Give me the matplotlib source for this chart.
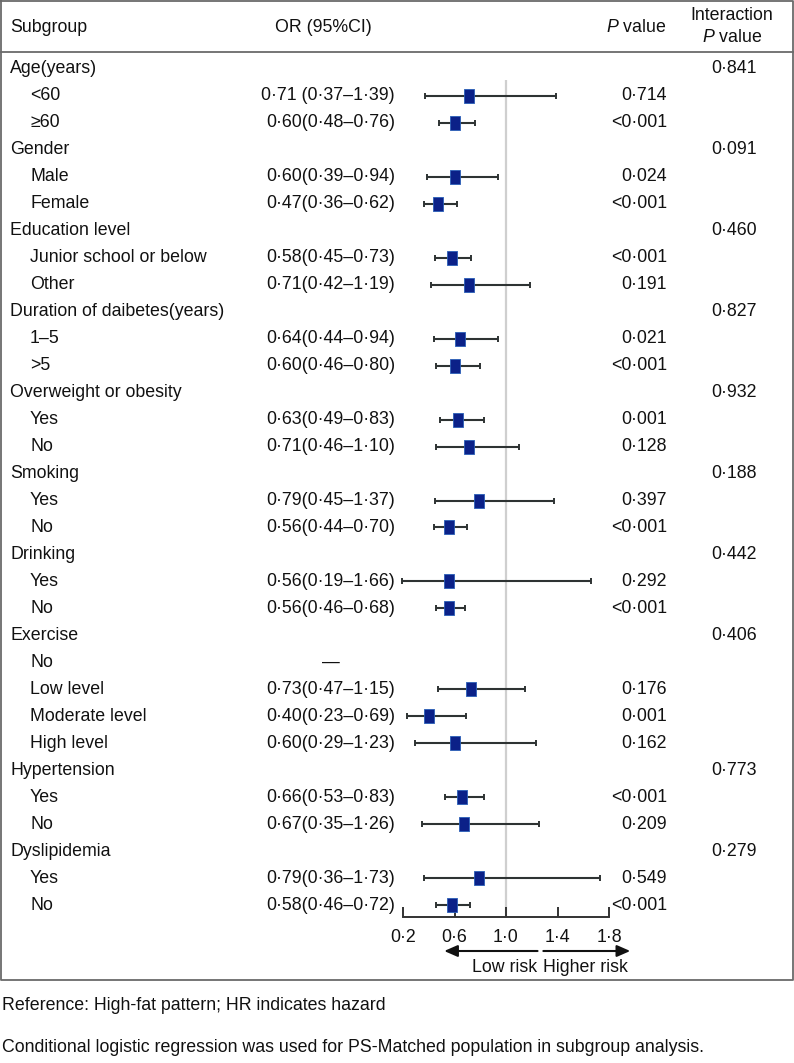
import numpy as np
import matplotlib
matplotlib.use("Agg")
import matplotlib.pyplot as plt
from matplotlib import transforms
from matplotlib.path import Path
from matplotlib.lines import Line2D

plt.rcParams['font.family'] = ['Liberation Sans', 'DejaVu Sans']
plt.rcParams['mathtext.fontset'] = 'custom'
plt.rcParams['mathtext.it'] = 'Liberation Sans:italic'
plt.rcParams['mathtext.rm'] = 'Liberation Sans'

# ---------------- data ----------------
subgroups = ["Age(years)", "<60", "≥60",
             "Gender", "Male", "Female",
             "Education level", "Junior school or below", "Other",
             "Duration of daibetes(years)", "1–5", ">5",
             "Overweight or obesity", "Yes", "No",
             "Smoking", "Yes", "No",
             "Drinking", "Yes", "No",
             "Exercise", "No", "Low level", "Moderate level", "High level",
             "Hypertension", "Yes", "No",
             "Dyslipidemia", "Yes", "No"]
is_group = [1, 0, 0, 1, 0, 0, 1, 0, 0, 1, 0, 0, 1, 0, 0, 1, 0, 0,
            1, 0, 0, 1, 0, 0, 0, 0, 1, 0, 0, 1, 0, 0]
nan = np.nan
or_est = [nan, 0.71, 0.60, nan, 0.60, 0.47, nan, 0.58, 0.71, nan, 0.64, 0.60,
          nan, 0.63, 0.71, nan, 0.79, 0.56, nan, 0.56, 0.56, nan, nan, 0.73, 0.40, 0.60,
          nan, 0.66, 0.67, nan, 0.79, 0.58]
ci_low = [nan, 0.37, 0.48, nan, 0.39, 0.36, nan, 0.45, 0.42, nan, 0.44, 0.46,
          nan, 0.49, 0.46, nan, 0.45, 0.44, nan, 0.19, 0.46, nan, nan, 0.47, 0.23, 0.29,
          nan, 0.53, 0.35, nan, 0.36, 0.46]
ci_high = [nan, 1.39, 0.76, nan, 0.94, 0.62, nan, 0.73, 1.19, nan, 0.94, 0.80,
           nan, 0.83, 1.10, nan, 1.37, 0.70, nan, 1.66, 0.68, nan, nan, 1.15, 0.69, 1.23,
           nan, 0.83, 1.26, nan, 1.73, 0.72]
or_text = ["", "0·71 (0·37–1·39)", "0·60(0·48–0·76)", "", "0·60(0·39–0·94)", "0·47(0·36–0·62)",
           "", "0·58(0·45–0·73)", "0·71(0·42–1·19)", "", "0·64(0·44–0·94)", "0·60(0·46–0·80)",
           "", "0·63(0·49–0·83)", "0·71(0·46–1·10)", "", "0·79(0·45–1·37)", "0·56(0·44–0·70)",
           "", "0·56(0·19–1·66)", "0·56(0·46–0·68)", "", "—", "0·73(0·47–1·15)",
           "0·40(0·23–0·69)", "0·60(0·29–1·23)", "", "0·66(0·53–0·83)", "0·67(0·35–1·26)",
           "", "0·79(0·36–1·73)", "0·58(0·46–0·72)"]
p_text = ["", "0·714", "<0·001", "", "0·024", "<0·001", "", "<0·001", "0·191", "",
          "0·021", "<0·001", "", "0·001", "0·128", "", "0·397", "<0·001", "", "0·292",
          "<0·001", "", "", "0·176", "0·001", "0·162", "", "<0·001", "0·209", "",
          "0·549", "<0·001"]
p_inter = ["0·841", "", "", "0·091", "", "", "0·460", "", "", "0·827", "", "",
           "0·932", "", "", "0·188", "", "", "0·442", "", "", "0·406", "", "", "", "",
           "0·773", "", "", "0·279", "", ""]
xticks = [0.2, 0.6, 1.0, 1.4, 1.8]
xtick_labels = ["0·2", "0·6", "1·0", "1·4", "1·8"]
ref_value = 1.0

# ---------------- layout ----------------
W, H = 794, 1063
fig = plt.figure(figsize=(W / 100, H / 100), dpi=100)
fx = lambda px: px / W
fy = lambda py: 1 - py / H

row0_px, row_step = 69.0, 26.97
ax_top_px, ax_bot_px = 55.0, 917.0
y_top = (ax_top_px - row0_px) / row_step
y_bot = (ax_bot_px - row0_px) / row_step

ax = fig.add_axes([fx(403), fy(ax_bot_px), fx(609) - fx(403), (ax_bot_px - ax_top_px) / H])
ax.set_xlim(0.2, 1.8)
ax.set_ylim(y_bot, y_top)
ax.patch.set_visible(False)
for s in ['left', 'right', 'top']:
    ax.spines[s].set_visible(False)
ax.spines['bottom'].set_color('#333333')
ax.spines['bottom'].set_linewidth(1.4)
ax.set_yticks([])
ax.set_xticks(xticks)
ax.set_xticklabels(xtick_labels)
ax.tick_params(axis='x', direction='in', length=7.5, width=1.4, color='#333333',
               labelsize=12.8, pad=9, labelcolor='#111111')

n = len(subgroups)
rows = np.arange(n)
est = np.array(or_est)
lo = np.array(ci_low)
hi = np.array(ci_high)

# reference line
ax.vlines(ref_value, 0.4, y_bot, color='#cfcfcf', lw=1.6, zorder=1)

# CI whiskers
ax.errorbar(est, rows, xerr=[est - lo, hi - est], fmt='none', ecolor='#2e3333',
            elinewidth=1.5, capsize=2.4, capthick=1.4, zorder=2, clip_on=False)
# boxes (slightly tall rectangles)
rect = Path([(-0.35, -0.5), (0.35, -0.5), (0.35, 0.5), (-0.35, 0.5), (-0.35, -0.5)],
            [Path.MOVETO, Path.LINETO, Path.LINETO, Path.LINETO, Path.CLOSEPOLY])
ax.plot(est, rows, linestyle='none', marker=rect, markersize=9.6,
        markerfacecolor='#0b2188', markeredgecolor='#2a5fb8', markeredgewidth=0.6,
        zorder=3, clip_on=False)

# ---------------- texts ----------------
trans = transforms.blended_transform_factory(fig.transFigure, ax.transData)
fs = 12.8
tc = '#111111'
for i in range(n):
    x = fx(10) if is_group[i] else fx(30)
    fig.text(x, i, subgroups[i], transform=trans, ha='left', va='center', fontsize=fs, color=tc)
    if or_text[i] == "—":
        fig.text(fx(331), i, or_text[i], transform=trans, ha='center', va='center',
                 fontsize=fs, color=tc)
    elif or_text[i]:
        fig.text(fx(395), i, or_text[i], transform=trans, ha='right', va='center',
                 fontsize=fs, color=tc)
    if p_text[i]:
        fig.text(fx(667), i, p_text[i], transform=trans, ha='right', va='center',
                 fontsize=fs, color=tc)
    if p_inter[i]:
        fig.text(fx(757), i, p_inter[i], transform=trans, ha='right', va='center',
                 fontsize=fs, color=tc)

# header
fig.text(fx(10), fy(28), "Subgroup", ha='left', va='center', fontsize=fs, color=tc)
fig.text(fx(323), fy(28), "OR (95%CI)", ha='center', va='center', fontsize=fs, color=tc)
fig.text(fx(666), fy(28), r"$P$ value", ha='right', va='center', fontsize=fs, color=tc)
fig.text(fx(732), fy(16), "Interaction", ha='center', va='center', fontsize=fs, color=tc)
fig.text(fx(732), fy(38), r"$P$ value", ha='center', va='center', fontsize=fs, color=tc)

# arrows and risk labels
xt = ax.get_xaxis_transform()
ya = -(951 - ax_bot_px) / (ax_bot_px - ax_top_px)
yl = -(967 - ax_bot_px) / (ax_bot_px - ax_top_px)
ax.annotate("", xy=(0.52, ya), xytext=(1.245, ya), xycoords=xt, textcoords=xt,
            arrowprops=dict(arrowstyle='-|>,head_length=0.8,head_width=0.35',
                            color='#111111', lw=1.5, shrinkA=0, shrinkB=0))
ax.annotate("", xy=(1.965, ya), xytext=(1.29, ya), xycoords=xt, textcoords=xt,
            arrowprops=dict(arrowstyle='-|>,head_length=0.8,head_width=0.35',
                            color='#111111', lw=1.5, shrinkA=0, shrinkB=0))
ax.text(1.245, yl, "Low risk", transform=xt, ha='right', va='center', fontsize=fs, color=tc)
ax.text(1.29, yl, "Higher risk", transform=xt, ha='left', va='center', fontsize=fs, color=tc)

# frame and header separator
bc = '#6a6a6a'
fig.add_artist(Line2D([fx(1), fx(793), fx(793), fx(1), fx(1)],
                      [fy(1), fy(1), fy(980), fy(980), fy(1)],
                      transform=fig.transFigure, color=bc, lw=1.3))
fig.add_artist(Line2D([fx(1), fx(793)], [fy(52), fy(52)], transform=fig.transFigure,
                      color=bc, lw=1.3))

# footnotes
fig.text(fx(2), fy(1006), "Reference: High-fat pattern; HR indicates hazard",
         ha='left', va='center', fontsize=fs, color=tc)
fig.text(fx(2), fy(1048),
         "Conditional logistic regression was used for PS-Matched population in subgroup analysis.",
         ha='left', va='center', fontsize=fs, color=tc)

fig.savefig("out.png", dpi=100)
